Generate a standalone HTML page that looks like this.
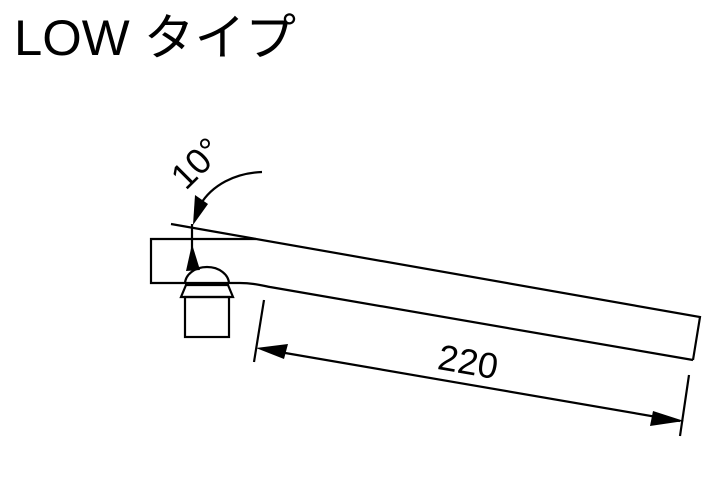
<!DOCTYPE html>
<html><head><meta charset="utf-8"><style>
html,body{margin:0;padding:0;background:#fff;}
svg{display:block;}
</style></head><body>
<svg width="710" height="483" viewBox="0 0 710 483" xmlns="http://www.w3.org/2000/svg">
<text x="14" y="55" font-family="Liberation Sans, Noto Sans CJK JP, sans-serif" font-size="50" fill="#000" textLength="282" lengthAdjust="spacingAndGlyphs">LOW タイプ</text>
<g fill="none" stroke="#000" stroke-width="2.2">
  <path d="M171 224 L700 317 L693 360"/>
  <path d="M256 239 L151 239 L151 283 L240 283 C252 283 260 285 270 287 L693 360"/>
  <path d="M192 224 L192 262"/>
  <path d="M185 284 A22 17 0 0 1 229 284"/>
  <path d="M185 285 L229 285 M186 285 L181 297 L233 297 L228 285"/>
  <rect x="185" y="297" width="44" height="40"/>
  <path d="M262 172 C235 173 212 185 200 205"/>
  <path d="M264 300 L254 362"/>
  <path d="M689 375 L680 436"/>
  <path d="M262 349 L680 421"/>
</g>
<g fill="#000">
  <polygon points="192,244 186,271 200,270"/>
  <polygon points="193,225 195,195 208,204"/>
  <polygon points="256,348 288,344 284,359"/>
  <polygon points="684,421 653,411 650,426"/>
</g>
<text transform="translate(205,172) rotate(-45)" text-anchor="middle" font-family="Liberation Sans, sans-serif" font-size="36" fill="#000">10°</text>
<text transform="translate(466,374) rotate(10)" text-anchor="middle" font-family="Liberation Sans, sans-serif" font-size="36" fill="#000">220</text>
</svg>
</body></html>
